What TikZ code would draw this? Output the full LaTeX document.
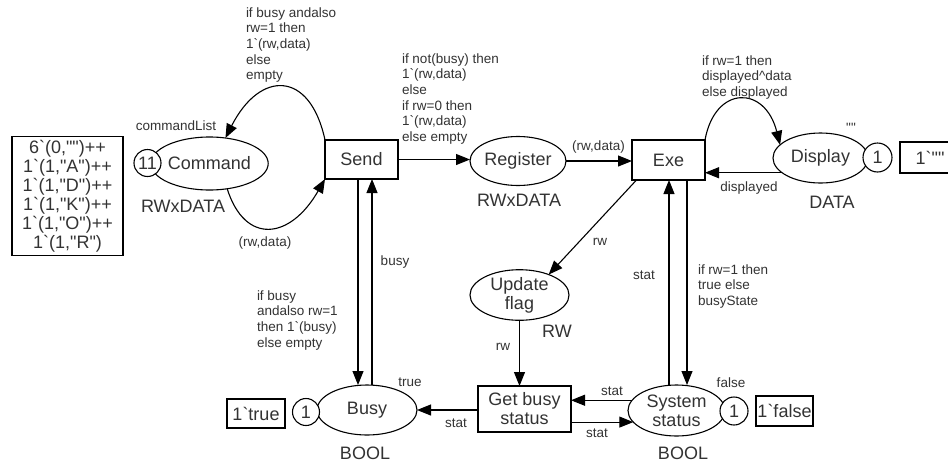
\documentclass[tikz,border=0pt]{standalone}
\usepackage{fontspec}
\setmainfont{Liberation Sans}[Ligatures=TeXOff]
\usetikzlibrary{arrows.meta,shapes.geometric}
\definecolor{ink}{HTML}{333333}
\newcommand\bq{\symbol{96}}
\begin{document}
\begin{tikzpicture}[x=1pt,y=-1pt,
  every node/.style={text=ink, inner sep=0pt, outer sep=0pt},
  bigtext/.style={font=\fontsize{18}{19}\selectfont},
  place/.style={ellipse, draw=black, line width=1.1pt, bigtext, align=center},
  trans/.style={rectangle, draw=black, line width=1.1pt, bigtext, align=center},
  token/.style={circle, draw=black, fill=white, line width=1.1pt, bigtext},
  initbox/.style={rectangle, draw=black, line width=1.1pt, bigtext, align=center},
  insc/.style={font=\fontsize{13.5}{15.6}\selectfont, align=left},
  arc/.style={draw=black, line width=1.1pt, -{Triangle[length=14pt,width=11pt]}},
]
\path[fill=white, use as bounding box] (0,0) rectangle (948,464);

% places
\node[place, minimum width=97pt, minimum height=53pt] (command) at (209.5,163.5) {Command};
\node[place, minimum width=96pt, minimum height=49pt] (register) at (518,161) {Register};
\node[place, minimum width=95pt, minimum height=50pt] (display) at (820.5,158) {Display};
\node[place, minimum width=99pt, minimum height=50pt] (update) at (519.5,295) {Update\\flag};
\node[place, minimum width=100pt, minimum height=50pt] (busy) at (367,410) {Busy};
\node[place, minimum width=97pt, minimum height=51pt] (system) at (676.5,410.5) {System\\status};

% transitions
\node[trans, minimum width=73pt, minimum height=39pt] (send) at (361.5,159.5) {Send};
\node[trans, minimum width=73pt, minimum height=40pt] (exe) at (668.5,160) {Exe};
\node[trans, minimum width=93pt, minimum height=46pt] (getbusy) at (524.5,409) {Get busy\\status};

% token counts
\node[token, minimum size=27pt] (tokcmd) at (147.5,163) {11};
\node[token, minimum size=29pt] (tokdisp) at (877.5,157.5) {1};
\node[token, minimum size=27pt] (tokbusy) at (306,412) {1};
\node[token, minimum size=28pt] (toksys) at (734,411) {1};

% current markings
\node[initbox, minimum width=111pt, minimum height=119pt] (cmdinit) at (67.5,196)
  {6\bq(0,"")++\\1\bq(1,"A")++\\1\bq(1,"D")++\\1\bq(1,"K")++\\1\bq(1,"O")++\\1\bq(1,"R")};
\node[initbox, minimum width=60pt, minimum height=31pt] (dispinit) at (930,157.5) {1\bq""};
\node[initbox, minimum width=58pt, minimum height=29pt] (busyinit) at (256,413.5) {1\bq true};
\node[initbox, minimum width=57pt, minimum height=30pt] (sysinit) at (784.5,411) {1\bq false};

% colour sets and initial markings
\node[insc] (cmdname) at (176,126) {commandList};
\node[bigtext] (cmdtype) at (183,206) {RWxDATA};
\node[bigtext] (regtype) at (519,200) {RWxDATA};
\node[insc] (dispq) at (851,128) {""};
\node[bigtext] (disptype) at (832,202) {DATA};
\node[bigtext] (updtype) at (557,331) {RW};
\node[bigtext] (busytype) at (365,453) {BOOL};
\node[bigtext] (systype) at (683,453) {BOOL};
\node[insc] (busyval) at (410,382) {true};
\node[insc] (sysval) at (731,383) {false};

% arcs
\draw[arc] (send.north west) .. controls (310,70) and (260,70) .. (command.58);
\draw[arc] (command.-55) .. controls (245,245) and (290,240) .. (send.south west);
\draw[arc] (send.east) -- (send.east -| register.west);
\draw[arc] (register.east) -- (register.east -| exe.west);
\draw[arc] (exe.north east) .. controls (715,85) and (765,85) .. (display.162);
\draw[arc] (display.201) -- (display.201 -| exe.east);
\draw[arc] (exe.212) -- (update.35);
\draw[arc] (update.south) -- (update.south |- getbusy.north);
\draw[arc] ([xshift=-3.5pt]send.south) -- ([xshift=-3.5pt]send.south |- busy.north);
\draw[arc] ([xshift=5pt]busy.north) -- ([xshift=5pt]busy.north |- send.south);
\draw[arc] ([xshift=-7.5pt]system.north) -- ([xshift=-7.5pt]system.north |- exe.south);
\draw[arc] ([xshift=18.5pt]exe.south) -- ([xshift=18.5pt]exe.south |- system.north);
\draw[arc] (getbusy.west |- busy.east) -- (busy.east);
\draw[arc] (system.167) -- (system.167 -| getbusy.east);
\draw[arc] (getbusy.east |- system.195) -- (system.195);

% arc inscriptions
\node[insc, anchor=north west] (i1) at (246,7.6)
  {if busy andalso\\rw=1 then\\1\bq(rw,data)\\else\\empty};
\node[insc] (i2) at (265,243) {(rw,data)};
\node[insc, anchor=north west] (i3) at (402,53.6)
  {if not(busy) then\\1\bq(rw,data)\\else\\if rw=0 then\\1\bq(rw,data)\\else empty};
\node[insc] (i4) at (598.5,147) {(rw,data)};
\node[insc, anchor=north west] (i5) at (702,55.6)
  {if rw=1 then\\displayed\textasciicircum data\\else displayed};
\node[insc] (i6) at (749,188) {displayed};
\node[insc] (i7) at (395,262) {busy};
\node[insc, anchor=north west] (i8) at (257,290.6)
  {if busy\\andalso rw=1\\then 1\bq(busy)\\else empty};
\node[insc] (i9) at (600,242) {rw};
\node[insc] (i10) at (503,347) {rw};
\node[insc] (i11) at (456,423) {stat};
\node[insc] (i12) at (644,275) {stat};
\node[insc, anchor=north west] (i13) at (698,264.6)
  {if rw=1 then\\true else\\busyState};
\node[insc] (i14) at (612,391) {stat};
\node[insc] (i15) at (597,433) {stat};
\end{tikzpicture}
\end{document}
